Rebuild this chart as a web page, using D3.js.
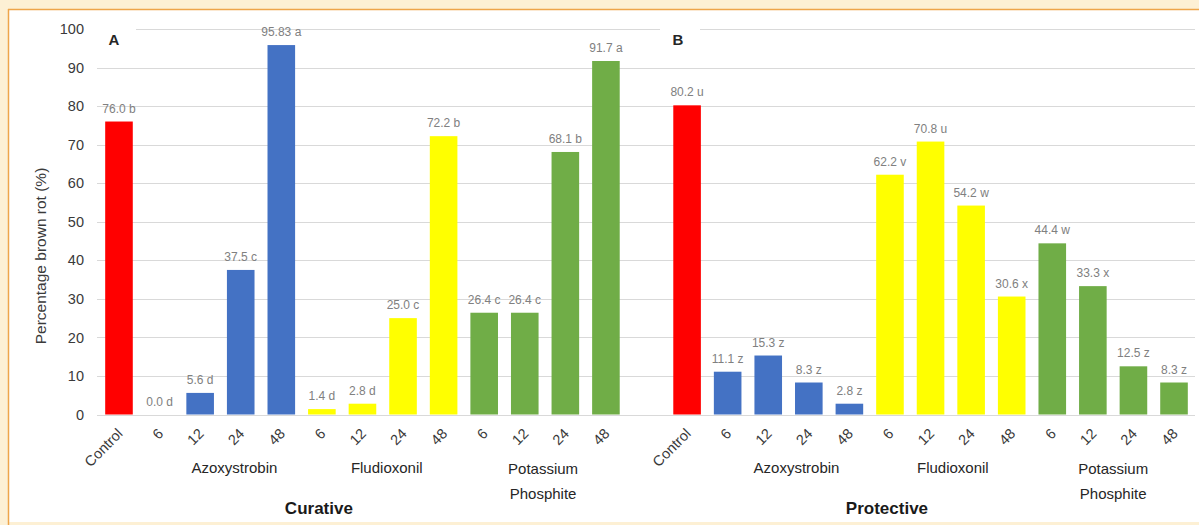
<!DOCTYPE html>
<html>
<head>
<meta charset="utf-8">
<script src="https://cdn.jsdelivr.net/npm/d3@7"></script>
<style>
  html, body { margin: 0; padding: 0; background: #fff; }
  svg { display: block; font-family: "Liberation Sans", Arial, sans-serif; }
</style>
</head>
<body>
<svg id="chart" width="1199" height="525"></svg>
<script>
// Percentage brown rot by treatment and hours, curative vs protective trials
const hours = ["6", "12", "24", "48"];
const treatments = ["Azoxystrobin", "Fludioxonil", "Potassium Phosphite"];
const panels = ["Curative", "Protective"];
const panelLetters = ["A", "B"];

const curativeValues = [76.0, 0.0, 5.6, 37.5, 95.83, 1.4, 2.8, 25.0, 72.2, 26.4, 26.4, 68.1, 91.7];
const curativeLetters = ["b", "d", "d", "c", "a", "d", "d", "c", "b", "c", "c", "b", "a"];
const protectiveValues = [80.2, 11.1, 15.3, 8.3, 2.8, 62.2, 70.8, 54.2, 30.6, 44.4, 33.3, 12.5, 8.3];
const protectiveLetters = ["u", "z", "z", "z", "z", "v", "u", "w", "x", "w", "x", "z", "z"];

const yTicks = [0, 10, 20, 30, 40, 50, 60, 70, 80, 90, 100];
const yLabel = "Percentage brown rot (%)";

// colours per treatment (control first)
const colors = {
  Control: "#ff0000",
  Azoxystrobin: "#4472c4",
  Fludioxonil: "#ffff00",
  "Potassium Phosphite": "#70ad47"
};

// horizontal nudges for the treatment group captions
const groupNudge = [[14, 4, -2], [8, 2, 0]];

// ---- build the flat category list: panel A, a spacer, panel B ----
const rows = [];
[curativeValues, protectiveValues].forEach((vals, p) => {
  const letters = p === 0 ? curativeLetters : protectiveLetters;
  rows.push({ key: `${p}-c`, panel: p, label: "Control", treatment: "Control", value: vals[0], letter: letters[0] });
  treatments.forEach((t, ti) => {
    hours.forEach((h, hi) => {
      const i = 1 + ti * hours.length + hi;
      rows.push({ key: `${p}-${ti}-${h}`, panel: p, label: h, treatment: t, tIndex: ti, value: vals[i], letter: letters[i] });
    });
  });
  if (p === 0) rows.push({ key: "gap", spacer: true });
});

const W = 1199, H = 525;
const svg = d3.select("#chart");

// page frame
svg.append("rect").attr("width", W).attr("height", H).attr("fill", "#fdf0d4");
svg.append("rect").attr("x", 9).attr("y", 10).attr("width", W - 9).attr("height", 512).attr("fill", "#ffffff");
svg.append("line").attr("x1", 8.5).attr("x2", 8.5).attr("y1", 9).attr("y2", H).attr("stroke", "#eea54a").attr("stroke-width", 1.5);
svg.append("line").attr("x1", 8).attr("x2", W).attr("y1", 9.5).attr("y2", 9.5).attr("stroke", "#eea54a").attr("stroke-width", 1.5);

const x = d3.scaleBand()
  .domain(rows.map(d => d.key))
  .range([98.7, 1194.3])
  .paddingInner(0.32)
  .paddingOuter(0.16);

const y = d3.scaleLinear().domain([0, 100]).range([414.5, 29]);

// gridlines
svg.append("g")
  .selectAll("line")
  .data(yTicks)
  .join("line")
  .attr("x1", 97).attr("x2", 1195)
  .attr("y1", d => Math.round(y(d)) + 0.5).attr("y2", d => Math.round(y(d)) + 0.5)
  .attr("stroke", "#d9d9d9").attr("stroke-width", 1);

// y axis labels
const yAxis = d3.axisLeft(y).tickValues(yTicks).tickSize(0).tickPadding(0);
const yg = svg.append("g").attr("transform", "translate(84,0)").call(yAxis);
yg.select(".domain").remove();
yg.selectAll("text")
  .attr("font-size", 14.5)
  .attr("font-family", "Liberation Sans, Arial, sans-serif")
  .attr("fill", "#3a3a3a");

svg.append("text")
  .attr("transform", "translate(46,256) rotate(-90)")
  .attr("text-anchor", "middle")
  .attr("font-size", 15.5)
  .attr("fill", "#3a3a3a")
  .text(yLabel);

// panel letters with white backing
panelLetters.forEach((L, p) => {
  const cx = p === 0 ? 114 : 678;
  svg.append("rect").attr("x", cx - 18).attr("y", 24).attr("width", 40).attr("height", 28).attr("fill", "#fff");
  svg.append("text")
    .attr("x", cx).attr("y", 45)
    .attr("text-anchor", "middle")
    .attr("font-size", 15)
    .attr("font-weight", "bold")
    .attr("fill", "#262626")
    .text(L);
});

const data = rows.filter(d => !d.spacer);

// bars
svg.append("g")
  .selectAll("rect")
  .data(data)
  .join("rect")
  .attr("x", d => x(d.key))
  .attr("width", x.bandwidth())
  .attr("y", d => y(d.value))
  .attr("height", d => y(0) - y(d.value))
  .attr("fill", d => colors[d.treatment]);

// value labels
const fmt = v => (Number.isInteger(v * 10) ? v.toFixed(1) : String(v));
svg.append("g")
  .selectAll("text")
  .data(data)
  .join("text")
  .attr("x", d => x(d.key) + x.bandwidth() / 2)
  .attr("y", d => y(d.value) - 9)
  .attr("text-anchor", "middle")
  .attr("font-size", 12)
  .attr("fill", "#808080")
  .text(d => `${fmt(d.value)} ${d.letter}`);

// rotated category labels
svg.append("g")
  .selectAll("text")
  .data(data)
  .join("text")
  .attr("transform", d => `translate(${x(d.key) + x.bandwidth() / 2 + 1},431) rotate(-45)`)
  .attr("text-anchor", "end")
  .attr("dy", "0.35em")
  .attr("font-size", 14.5)
  .attr("fill", "#3a3a3a")
  .text(d => d.label);

// treatment group captions
const centerOf = keys => d3.mean(keys, k => x(k) + x.bandwidth() / 2);
panels.forEach((name, p) => {
  treatments.forEach((t, ti) => {
    const keys = hours.map(h => `${p}-${ti}-${h}`);
    const cx = centerOf(keys) + groupNudge[p][ti];
    const words = t === "Potassium Phosphite" ? ["Potassium", "Phosphite"] : [t];
    const txt = svg.append("text")
      .attr("x", cx)
      .attr("y", words.length > 1 ? 474 : 473)
      .attr("text-anchor", "middle")
      .attr("font-size", 15)
      .attr("fill", "#262626");
    words.forEach((w, wi) => {
      txt.append("tspan").attr("x", cx).attr("dy", wi === 0 ? 0 : 24.5).text(w);
    });
  });
  // panel title under the axis
  const tx = x(`${p}-1-6`) + x.bandwidth() / 2 - 3;
  svg.append("text")
    .attr("x", tx).attr("y", 514)
    .attr("text-anchor", "middle")
    .attr("font-size", 17)
    .attr("font-weight", "bold")
    .attr("fill", "#1a1a1a")
    .text(name);
});
</script>
</body>
</html>
